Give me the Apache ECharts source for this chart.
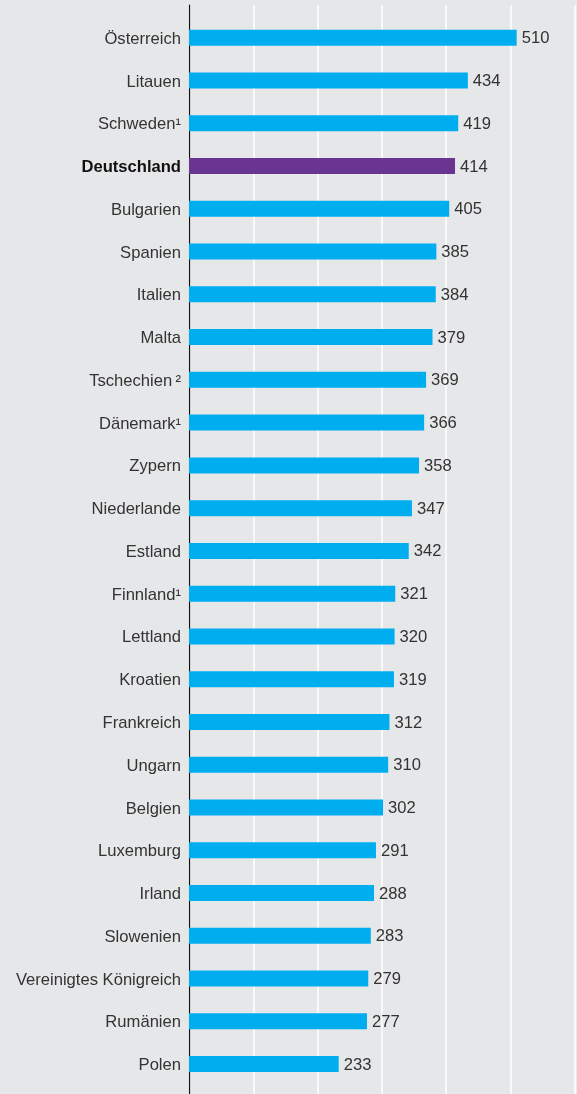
<!DOCTYPE html>
<html>
<head>
<meta charset="utf-8">
<script src="https://cdn.jsdelivr.net/npm/echarts@6/dist/echarts.min.js"></script>
<style>
html,body{margin:0;padding:0;background:#e6e7e9;}
#c{width:577px;height:1094px;}
</style>
</head>
<body>
<div id="c"></div>
<script>
var categories = ["Österreich","Litauen","Schweden¹","Deutschland","Bulgarien","Spanien","Italien","Malta","Tschechien\u2009²","Dänemark¹","Zypern","Niederlande","Estland","Finnland¹","Lettland","Kroatien","Frankreich","Ungarn","Belgien","Luxemburg","Irland","Slowenien","Vereinigtes Königreich","Rumänien","Polen"];
var values = [510,434,419,414,405,385,384,379,369,366,358,347,342,321,320,319,312,310,302,291,288,283,279,277,233];
var highlight = "Deutschland";
var xTicks = [0,100,200,300,400,500,600];

var FONT = '"Liberation Sans", Arial, sans-serif';
var FS = 16.6;
var chart = echarts.init(document.getElementById('c'));
var data = values.map(function(v,i){
  var item = {value:v};
  if (categories[i] === highlight) item.itemStyle = {color:'#6a3590'};
  return item;
});
chart.setOption({
  backgroundColor:'#e6e7e9',
  animation:false,
  grid:[
    {left:189,right:2.5,top:5,bottom:0},
    {left:189,right:2.5,top:16.4,bottom:8.6}
  ],
  xAxis:[
    {gridIndex:0,type:'value',min:xTicks[0],max:xTicks[xTicks.length-1],interval:100,
     axisLine:{show:false},axisTick:{show:false},axisLabel:{show:false},
     splitLine:{show:true,lineStyle:{color:'#ffffff',width:1.5}}},
    {gridIndex:1,type:'value',min:xTicks[0],max:xTicks[xTicks.length-1],interval:100,show:false}
  ],
  yAxis:[
    {gridIndex:0,type:'value',min:0,max:1,
     axisLine:{show:true,lineStyle:{color:'#111',width:1.2}},
     axisTick:{show:false},axisLabel:{show:false},splitLine:{show:false}},
    {gridIndex:1,type:'category',data:categories,inverse:true,
     axisLine:{show:false},axisTick:{show:false},splitLine:{show:false},
     axisLabel:{margin:8,fontFamily:FONT,fontSize:FS,color:'#333',padding:[3,0,0,0],
       formatter:function(v){ return v===highlight ? '{b|'+v+'}' : v; },
       rich:{b:{fontFamily:FONT,fontSize:FS,fontWeight:'bold',color:'#111'}}}}
  ],
  series:[{
    type:'bar',xAxisIndex:1,yAxisIndex:1,data:data,barWidth:16,
    itemStyle:{color:'#00aeef'},
    label:{show:true,position:'right',distance:5,offset:[0,1],fontFamily:FONT,fontSize:FS,color:'#333'}
  }]
});
</script>
</body>
</html>
